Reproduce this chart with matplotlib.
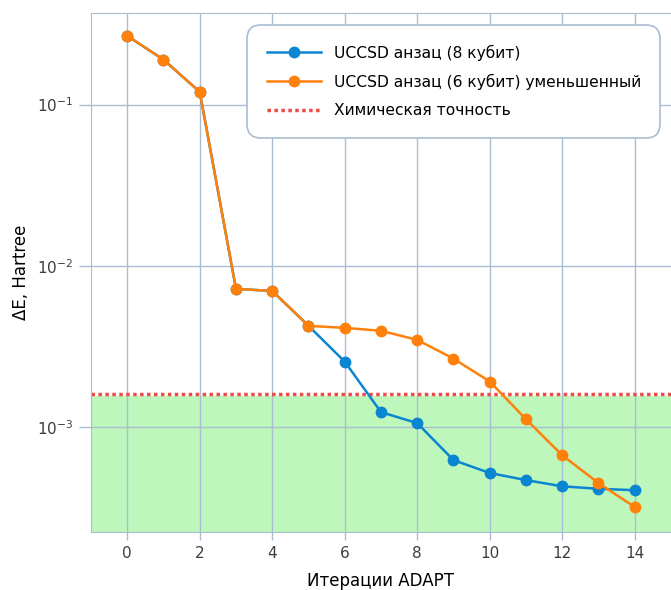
import matplotlib
matplotlib.use("Agg")
import matplotlib.pyplot as plt

# данные
iters = list(range(15))
de_6q = [0.267, 0.19, 0.12, 7.2e-3, 7.0e-3, 4.25e-3, 4.13e-3, 3.96e-3,
         3.48e-3, 2.66e-3, 1.92e-3, 1.12e-3, 6.7e-4, 4.5e-4, 3.2e-4]
de_8q = [0.267, 0.19, 0.12, 7.2e-3, 7.0e-3, 4.25e-3, 2.55e-3, 1.24e-3,
         1.06e-3, 6.25e-4, 5.2e-4, 4.7e-4, 4.3e-4, 4.15e-4, 4.07e-4]
chem_acc = 1.6e-3

grid_c = "#a9bdd2"
blue = "#0a85d1"
orange = "#ff800a"

plt.rcParams["font.family"] = "DejaVu Sans"

fig = plt.figure(figsize=(6.71, 5.9), dpi=100)
ax = fig.add_axes([0.1356, 0.0983, 0.8644, 0.8797])

ax.set_yscale("log")
ax.set_xlim(-1, 15)
ax.set_ylim(2.24e-4, 0.37)

ax.axhspan(2.24e-4, chem_acc * 0.97, color="#bdf7bb", zorder=0)
ax.grid(True, color=grid_c, linewidth=1.0, zorder=1)
ax.set_axisbelow(True)

ax.plot(iters, de_8q, "-o", color=blue, lw=1.8, ms=7.5,
        label="UCCSD анзац (8 кубит)", zorder=3)
ax.plot(iters, de_6q, "-o", color=orange, lw=1.8, ms=7.5,
        label="UCCSD анзац (6 кубит) уменьшенный", zorder=4)
ax.axhline(chem_acc, color="#f04a45", lw=2.5, ls=(0, (1, 1)),
           label="Химическая точность", zorder=2)

ax.set_xticks(range(0, 15, 2))
ax.minorticks_off()
ax.tick_params(axis="both", colors=grid_c, labelcolor="#3d3d3d",
               labelsize=11, width=1)
ax.tick_params(axis="x", length=6, pad=4)
ax.tick_params(axis="y", length=9, pad=4)
for side in ["left", "bottom", "top"]:
    ax.spines[side].set_color(grid_c)
ax.spines["right"].set_visible(False)

ax.set_xlabel("Итерации ADAPT", fontsize=12)
ax.xaxis.set_label_coords(0.5, -0.078)
ax.set_ylabel("ΔE, Hartree", fontsize=12)
ax.yaxis.set_label_coords(-0.105, 0.5)

leg = ax.legend(loc="upper right", bbox_to_anchor=(0.995, 0.992),
                fontsize=11.2, frameon=True, fancybox=True,
                borderpad=1.25, handlelength=3.5, labelspacing=0.85,
                framealpha=1)
leg.get_frame().set_edgecolor(grid_c)
leg.get_frame().set_linewidth(1.2)
leg.get_frame().set_boxstyle("round", pad=0, rounding_size=0.9)

fig.savefig("out.png", dpi=100)
